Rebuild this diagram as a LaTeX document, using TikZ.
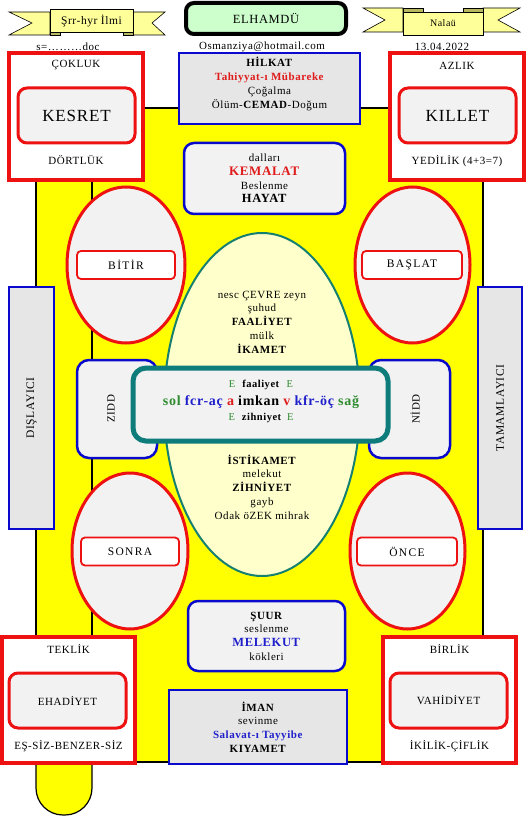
\documentclass[tikz,border=0pt]{standalone}
\usepackage{fontspec}
\setmainfont[LetterSpace=5]{Liberation Serif}
\usetikzlibrary{shapes.geometric}

\definecolor{boxred}{HTML}{EE1111}
\definecolor{boxblue}{HTML}{0A0ACC}
\definecolor{paneltint}{HTML}{F2F2F2}
\definecolor{bartint}{HTML}{E6E6E6}
\definecolor{scrollyellow}{HTML}{FFFF00}
\definecolor{eggyellow}{HTML}{FFFFCC}
\definecolor{ribbonyellow}{HTML}{FFFF99}
\definecolor{ribbonfold}{HTML}{B8B860}
\definecolor{mintgreen}{HTML}{CCFFCC}
\definecolor{tealline}{HTML}{0E7C7B}
\definecolor{eggline}{HTML}{168070}
\definecolor{textgreen}{HTML}{2E8B2E}
\definecolor{textblue}{HTML}{1F1FCC}
\definecolor{textred}{HTML}{E01B1B}

\begin{document}
\begin{tikzpicture}[
    x=1pt, y=-1pt,
    txt/.style={inner sep=0pt, align=center, font=\fontsize{11}{13.7}\selectfont},
    cornerframe/.style={rectangle, draw=boxred, line width=3.5pt, fill=white, inner sep=0pt},
    innerred/.style={rectangle, rounded corners=9pt, draw=boxred, line width=3pt, fill=paneltint, inner sep=0pt, align=center},
    bluebar/.style={rectangle, draw=boxblue, line width=2.5pt, fill=bartint, inner sep=0pt, align=center},
    bluepanel/.style={rectangle, rounded corners=10pt, draw=boxblue, line width=2.5pt, fill=paneltint, inner sep=0pt, align=center, font=\fontsize{11}{13.7}\selectfont},
    redoval/.style={ellipse, draw=boxred, line width=3pt, fill=paneltint, inner sep=0pt},
    ovaltag/.style={rectangle, rounded corners=4pt, draw=boxred, line width=1.8pt, fill=white, inner sep=0pt, minimum height=28pt, font=\fontsize{11.5}{13}\selectfont\addfontfeature{LetterSpace=12}}
]
    \useasboundingbox (0,0) rectangle (527,818);

    % yellow scroll
    \fill[scrollyellow] (36,108) rectangle (483,762);
    \draw[line width=1.2pt, fill=scrollyellow, rounded corners=27pt] (92,700) -- (92,815) -- (36,815) -- (36,700);
    \draw[line width=1.2pt] (36,108) -- (483,108) -- (483,762) -- (92,762);
    \draw[line width=1.2pt] (36,108) -- (36,760);
    \draw[line width=1.2pt] (92,108) -- (92,760);

    % ribbons
    \draw[fill=ribbonyellow, line width=0.6pt] (50,12) -- (9,12) -- (32,23) -- (9,35) -- (50,35) -- cycle;
    \draw[fill=ribbonyellow, line width=0.6pt] (133,12) -- (165,12) -- (152,23) -- (165,35) -- (133,35) -- cycle;
    \draw[fill=ribbonfold, line width=0.6pt] (50,31) -- (60,31) -- (60,35) -- (50,35) -- cycle;
    \draw[fill=ribbonfold, line width=0.6pt] (123,31) -- (133,31) -- (133,35) -- (123,35) -- cycle;
    \node[rectangle, draw, line width=0.6pt, fill=ribbonyellow, minimum width=83pt, minimum height=23pt, inner sep=0pt, font=\fontsize{11.5}{13}\selectfont] (ilmi) at (91.5,20.5) {Şrr-hyr İlmi};

    \draw[fill=ribbonyellow, line width=0.6pt] (403,8) -- (363,8) -- (385,20) -- (363,32) -- (403,32) -- cycle;
    \draw[fill=ribbonyellow, line width=0.6pt] (483,8) -- (520,8) -- (498,20) -- (520,32) -- (483,32) -- cycle;
    \draw[fill=ribbonfold, line width=0.6pt] (403,8) -- (423,8) -- (423,12) -- (403,12) -- cycle;
    \draw[fill=ribbonfold, line width=0.6pt] (463,8) -- (483,8) -- (483,12) -- (463,12) -- cycle;
    \node[rectangle, draw, line width=0.6pt, fill=ribbonyellow, minimum width=80pt, minimum height=23pt, inner sep=0pt, font=\fontsize{10}{12}\selectfont] (nalau) at (443,23.5) {Nalaü};

    \node[rectangle, rounded corners=8pt, draw=black, line width=4pt, fill=mintgreen, minimum width=160pt, minimum height=31pt, inner sep=0pt, font=\fontsize{12.5}{14}\selectfont] (elhamdu) at (266,18.5) {ELHAMDÜ};

    \node[txt] (dosya) at (68,47) {s=………doc};
    \node[txt] (posta) at (262,47) {Osmanziya@hotmail.com};
    \node[txt] (tarih) at (442,47) {13.04.2022};

    % corner boxes
    \node[cornerframe, minimum width=134pt, minimum height=127pt] (cokluk) at (76,116.5) {};
    \node[txt] (coklukT) at (76,65) {ÇOKLUK};
    \node[innerred, minimum width=117pt, minimum height=55pt, font=\fontsize{17}{19}\selectfont] (kesret) at (76.5,115.5) {KESRET};
    \node[txt] (dortluk) at (76,160) {DÖRTLÜK};

    \node[cornerframe, minimum width=134pt, minimum height=127pt] (azlik) at (457,116.5) {};
    \node[txt] (azlikT) at (457,66) {AZLIK};
    \node[innerred, minimum width=117pt, minimum height=55pt, font=\fontsize{17}{19}\selectfont] (killet) at (457.5,115.5) {KILLET};
    \node[txt] (yedilik) at (457,161) {YEDİLİK (4+3=7)};

    \node[cornerframe, minimum width=133pt, minimum height=126pt] (teklik) at (68.5,700) {};
    \node[txt] (teklikT) at (68.5,649) {TEKLİK};
    \node[innerred, minimum width=117pt, minimum height=55pt, font=\fontsize{11}{13}\selectfont] (ehadiyet) at (67.5,700.5) {EHADİYET};
    \node[txt] (essiz) at (68.5,746) {EŞ-SİZ-BENZER-SİZ};

    \node[cornerframe, minimum width=133pt, minimum height=126pt] (birlik) at (449.5,700) {};
    \node[txt] (birlikT) at (449.5,649) {BİRLİK};
    \node[innerred, minimum width=117pt, minimum height=55pt, font=\fontsize{11}{13}\selectfont] (vahidiyet) at (448.5,700.5) {VAHİDİYET};
    \node[txt] (ikilik) at (449.5,746) {İKİLİK-ÇİFLİK};

    % top and bottom panels
    \node[bluebar, minimum width=181pt, minimum height=71pt] (hilkat) at (269.5,88.5) {};
    \node[txt] (hilkatT) at (269.5,84) {\textbf{HİLKAT}\\\textcolor{textred}{\textbf{Tahiyyat-ı Mübareke}}\\Çoğalma\\Ölüm-\textbf{CEMAD}-Doğum};

    \node[bluepanel, minimum width=161pt, minimum height=71pt] (dallari) at (264.5,178.5) {dalları\\{\fontsize{13}{14}\selectfont\textcolor{textred}{\textbf{KEMALAT}}}\\Beslenme\\{\fontsize{12.5}{13}\selectfont\textbf{HAYAT}}};

    \node[bluepanel, minimum width=157pt, minimum height=70pt] (suur) at (266.5,636) {\textbf{ŞUUR}\\seslenme\\{\fontsize{12.5}{13}\selectfont\textcolor{textblue}{\textbf{MELEKUT}}}\\kökleri};

    \node[bluebar, minimum width=178pt, minimum height=74pt, font=\fontsize{11}{13.7}\selectfont] (iman) at (258,727) {\textbf{İMAN}\\sevinme\\\textcolor{textblue}{\textbf{Salavat-ı Tayyibe}}\\\textbf{KIYAMET}};

    % four ovals
    \node[redoval, minimum width=118pt, minimum height=156pt] (bitirO) at (126,265) {};
    \node[ovaltag, minimum width=98pt] (bitir) at (126,265) {BİTİR};
    \node[redoval, minimum width=115pt, minimum height=156pt] (baslatO) at (412.5,265) {};
    \node[ovaltag, minimum width=100pt] (baslat) at (412,265) {BAŞLAT};
    \node[redoval, minimum width=116pt, minimum height=156pt] (sonraO) at (130,551) {};
    \node[ovaltag, minimum width=98pt] (sonra) at (130,551.5) {SONRA};
    \node[redoval, minimum width=115pt, minimum height=156pt] (onceO) at (407.5,551) {};
    \node[ovaltag, minimum width=100pt] (once) at (407,551.5) {ÖNCE};

    % side bars
    \node[bluebar, minimum width=45pt, minimum height=242pt] (dislayici) at (31.5,408) {};
    \node[txt, rotate=90, font=\fontsize{11.5}{13}\selectfont] (dislayiciT) at (31.5,408) {DIŞLAYICI};
    \node[bluebar, minimum width=44pt, minimum height=242pt] (tamamlayici) at (500,408) {};
    \node[txt, rotate=90, font=\fontsize{11.5}{13}\selectfont] (tamamlayiciT) at (500,408) {TAMAMLAYICI};

    % central egg
    \node[ellipse, draw=eggline, line width=2pt, fill=eggyellow, minimum width=196pt, minimum height=343pt, inner sep=0pt] (egg) at (262,404.5) {};
    \node[txt] (ikamet) at (262,322) {nesc ÇEVRE zeyn\\şuhud\\\textbf{FAALİYET}\\mülk\\\textbf{İKAMET}};
    \node[txt] (istikamet) at (262,487) {\textbf{İSTİKAMET}\\melekut\\\textbf{ZİHNİYET}\\gayb\\Odak öZEK mihrak};

    \node[rectangle, rounded corners=12pt, draw=boxblue, line width=2.5pt, fill=paneltint, minimum width=80pt, minimum height=98pt] (zidd) at (117,409) {};
    \node[txt, rotate=90] (ziddT) at (111,409) {ZIDD};
    \node[rectangle, rounded corners=12pt, draw=boxblue, line width=2.5pt, fill=paneltint, minimum width=81pt, minimum height=98pt] (nidd) at (409.5,409) {};
    \node[txt, rotate=90] (niddT) at (415,409) {NİDD};

    \node[rectangle, rounded corners=13pt, draw=tealline, line width=5pt, fill=paneltint, minimum width=255pt, minimum height=73pt, inner sep=0pt] (imkanbox) at (260.5,404.5) {};
    \node[txt, font=\fontsize{10.5}{12}\selectfont] (faaliyet) at (261,385) {\textcolor{textgreen}{E}\enspace\,\textbf{faaliyet}\enspace\,\textcolor{textgreen}{E}};
    \node[txt, font=\fontsize{14}{15}\selectfont\bfseries] (imkan) at (261,402) {\textcolor{textgreen}{sol} \textcolor{textblue}{fcr-aç} \textcolor{textred}{a} imkan \textcolor{textred}{v} \textcolor{textblue}{kfr-öç} \textcolor{textgreen}{sağ}};
    \node[txt, font=\fontsize{10.5}{12}\selectfont] (zihniyet) at (261,418) {\textcolor{textgreen}{E}\enspace\,\textbf{zihniyet}\enspace\textcolor{textgreen}{E}};
\end{tikzpicture}
\end{document}
